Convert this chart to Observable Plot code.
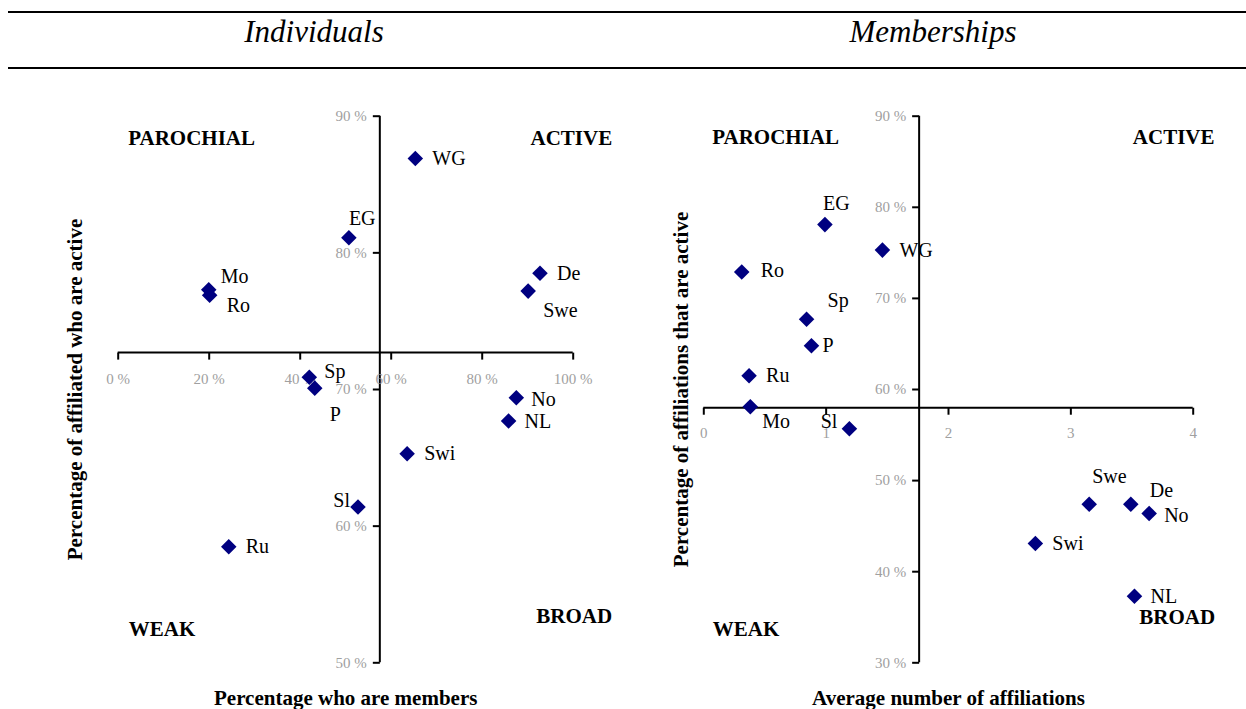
<!DOCTYPE html>
<html>
<head>
<meta charset="utf-8">
<script src="https://cdn.jsdelivr.net/npm/d3@7"></script>
<script src="https://cdn.jsdelivr.net/npm/@observablehq/plot@0.6"></script>
<style>
  html, body { margin: 0; padding: 0; background: #fff; }
  body { position: relative; width: 1246px; height: 709px; overflow: hidden;
         font-family: "Liberation Serif", "Times New Roman", serif; }
  .hrule { position: absolute; left: 8px; right: 0; height: 2px; background: #000; }
  .ptitle { position: absolute; top: 16px; width: 400px; text-align: center;
            font-style: italic; font-size: 31px; line-height: 31px; color: #000; }
  .panel { position: absolute; top: 80px; }
</style>
</head>
<body>
<div class="hrule" style="top:11px"></div>
<div class="ptitle" style="left:114px">Individuals</div>
<div class="ptitle" style="left:733px">Memberships</div>
<div class="hrule" style="top:67px"></div>
<div id="left" class="panel" style="left:0px"></div>
<div id="right" class="panel" style="left:623px"></div>
<script>
// ---------- data ----------
const countries  = ["WG", "EG", "Mo", "Ro", "De", "Swe", "Sp", "P", "No", "NL", "Swi", "Sl", "Ru"];
// Individuals panel
const indMembers = [65.3, 50.7, 19.9, 20.1, 92.7, 90.1, 42.0, 43.2, 87.5, 85.8, 63.5, 52.7, 24.3];
const indActive  = [86.9, 81.1, 77.3, 76.9, 78.5, 77.2, 70.9, 70.1, 69.4, 67.7, 65.3, 61.4, 58.5];
// Memberships panel
const memAffil   = [1.46, 0.99, 0.38, 0.31, 3.49, 3.15, 0.84, 0.88, 3.64, 3.52, 2.71, 1.19, 0.37];
const memActive  = [75.3, 78.1, 58.1, 72.9, 47.4, 47.4, 67.7, 64.8, 46.4, 37.3, 43.1, 55.7, 61.5];
// axis crossing points (means)
const indCross = {x: 57.5, y: 72.7};
const memCross = {x: 1.76, y: 58.0};
// ticks
const indXTicks = [0, 20, 40, 60, 80, 100];
const indYTicks = [50, 60, 70, 80, 90];
const memXTicks = [0, 1, 2, 3, 4];
const memYTicks = [30, 40, 50, 60, 70, 80, 90];
const quadrants = ["PAROCHIAL", "ACTIVE", "WEAK", "BROAD"];

// ---------- layout (label offsets in px) ----------
const indLabelOff = {
  WG: [17, 0], EG: [0, -19], Mo: [12, -13], Ro: [17, 10], De: [17, 0], Swe: [15, 19],
  Sp: [15, -6], P: [15, 26], No: [15, 2], NL: [16, 1], Swi: [17, 0], Sl: [-8, -6, "end"], Ru: [17, 0]
};
const memLabelOff = {
  WG: [17, 0], EG: [-2, -21], Mo: [12, 15], Ro: [19, -1], De: [19, -14], Swe: [3, -28],
  Sp: [21, -19], P: [11, 0], No: [15, 2], NL: [16, 0], Swi: [17, 0], Sl: [-12, -7, "end"], Ru: [17, 0]
};

const FONT = "Liberation Serif";
const GRAY = "#a0a0a0";
const NAVY = "#000080";
const tickDown = {draw(ctx) { ctx.moveTo(0, 0); ctx.lineTo(0, 7); }};
const tickLeft = {draw(ctx) { ctx.moveTo(0, 0); ctx.lineTo(-7, 0); }};

function panel({xs, ys, cross, xDomain, yDomain, xTicks, yTicks, xFmt, yFmt,
                marginLeft, marginRight, labelOff, xTitle, yTitle, yTitleDx, quadOff, xLabelDy}) {
  const rows = countries.map((c, i) => ({name: c, x: xs[i], y: ys[i]}));
  const labelMarks = rows.map(r => {
    const o = labelOff[r.name];
    return Plot.text([r], {x: "x", y: "y", text: "name", dx: o[0], dy: o[1],
      textAnchor: o[2] || "start", lineAnchor: "middle", fontSize: 20, fontFamily: FONT, fill: "#000"});
  });
  const quadMarks = quadrants.map((q, i) => {
    const o = quadOff[i];
    return Plot.text([q], {text: d => d, frameAnchor: o[0], textAnchor: o[1], lineAnchor: "middle",
      dx: o[2], dy: o[3], fontSize: 21, fontWeight: "bold", fontFamily: FONT, fill: "#000"});
  });
  return Plot.plot({
    width: 623, height: 629,
    marginLeft, marginRight, marginTop: 35.7, marginBottom: 46.7,
    x: {domain: xDomain, axis: null},
    y: {domain: yDomain, axis: null},
    style: {fontFamily: FONT, background: "white", overflow: "visible"},
    marks: [
      ...quadMarks,
      Plot.ruleY([cross.y], {x1: xDomain[0], x2: xDomain[1], stroke: "#000", strokeWidth: 2}),
      Plot.ruleX([cross.x], {y1: yDomain[0], y2: yDomain[1], stroke: "#000", strokeWidth: 2}),
      Plot.dot(xTicks, {x: d => d, y: cross.y, symbol: tickDown, fill: "none", stroke: "#000", strokeWidth: 2}),
      Plot.dot(yTicks, {x: cross.x, y: d => d, symbol: tickLeft, fill: "none", stroke: "#000", strokeWidth: 2}),
      Plot.text(xTicks, {x: d => d, y: cross.y, text: xFmt, dy: xLabelDy, lineAnchor: "middle",
        fontSize: 15, fontFamily: FONT, fill: GRAY}),
      Plot.text(yTicks, {x: cross.x, y: d => d, text: yFmt, dx: -13, textAnchor: "end", lineAnchor: "middle",
        fontSize: 15, fontFamily: FONT, fill: GRAY}),
      Plot.dot(rows, {x: "x", y: "y", symbol: "diamond2", r: 7, fill: NAVY, stroke: "none"}),
      ...labelMarks,
      Plot.text([xTitle], {text: d => d, frameAnchor: "bottom", dy: 35, lineAnchor: "middle", textAnchor: "middle",
        fontSize: 21, fontWeight: "bold", fontFamily: FONT, fill: "#000"}),
      Plot.text([yTitle], {text: d => d, frameAnchor: "left", dx: yTitleDx, rotate: -90, lineAnchor: "middle",
        textAnchor: "middle", fontSize: 21, fontWeight: "bold", fontFamily: FONT, fill: "#000"})
    ]
  });
}

document.getElementById("left").append(panel({
  xs: indMembers, ys: indActive, cross: indCross,
  xDomain: [0, 100], yDomain: [50, 90], xTicks: indXTicks, yTicks: indYTicks,
  xFmt: d => d + " %", yFmt: d => d + " %",
  marginLeft: 117.7, marginRight: 50.3, labelOff: indLabelOff,
  xTitle: "Percentage who are members", yTitle: "Percentage of affiliated who are active",
  yTitleDx: -42.7, xLabelDy: 26.5,
  quadOff: [["top-left", "start", 10, 21.6], ["top-right", "end", 39, 21.6],
            ["bottom-left", "start", 10.6, -34], ["bottom-right", "end", 39, -46.3]]
}));

document.getElementById("right").append(panel({
  xs: memAffil, ys: memActive, cross: memCross,
  xDomain: [0, 4], yDomain: [30, 90], xTicks: memXTicks, yTicks: memYTicks,
  xFmt: d => String(d), yFmt: d => d + " %",
  marginLeft: 80.3, marginRight: 53.3, labelOff: memLabelOff,
  xTitle: "Average number of affiliations", yTitle: "Percentage of affiliations that are active",
  yTitleDx: -23, xLabelDy: 25,
  quadOff: [["top-left", "start", 8.4, 21.5], ["top-right", "end", 21.3, 21.5],
            ["bottom-left", "start", 9, -34], ["bottom-right", "end", 22, -46]]
}));
</script>
</body>
</html>
